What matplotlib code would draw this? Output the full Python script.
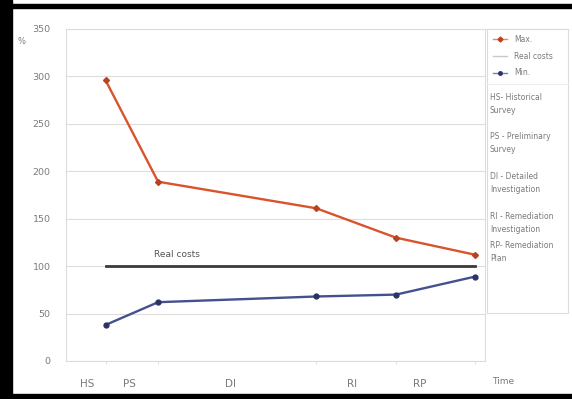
import matplotlib.pyplot as plt
from matplotlib.lines import Line2D
from matplotlib.patches import Rectangle

# data
times = [1.0, 2.33, 6.33, 8.35, 10.35]
max_vals = [296, 189, 161, 130, 112]
min_vals = [38, 62, 68, 70, 89]
real_costs = [100, 100, 100, 100, 100]
phase_labels = ["HS", "PS", "DI", "RI", "RP"]
phase_pos = [0.53, 1.6, 4.15, 7.23, 8.96]
yticks = [0, 50, 100, 150, 200, 250, 300, 350]
notes = ["HS- Historical\nSurvey", "PS - Preliminary\nSurvey", "DI - Detailed\nInvestigation",
         "RI - Remediation\nInvestigation", "RP- Remediation\nPlan"]

W, H = 572, 399
fig = plt.figure(figsize=(W / 100, H / 100), dpi=100)
ax = fig.add_axes([66 / W, 1 - 361 / H, (485 - 66) / W, (361 - 29) / H])

grid_c = "#dcdcdc"
txt_c = "#7a7a7a"

ax.plot(times, real_costs, color="#3a3a3a", lw=2.0, zorder=3)
ax.plot(times, max_vals, color="#d9542c", lw=1.7, marker="D", ms=3,
        mfc="#b8441f", mec="#b8441f", zorder=4)
ax.plot(times, min_vals, color="#45508f", lw=1.7, marker="o", ms=3.5,
        mfc="#2a3266", mec="#2a3266", zorder=4)
ax.text(2.8, 108, "Real costs", fontsize=6.5, color="#555555", ha="center", va="bottom")

ax.set_xlim(0, 10.6)
ax.set_ylim(0, 350)
ax.set_yticks(yticks)
ax.set_yticklabels([str(v) for v in yticks], fontsize=6.8, color=txt_c)
ax.set_xticks(phase_pos)
ax.set_xticklabels(phase_labels, fontsize=7.5, color=txt_c)
ax.set_xticks(times, minor=True)
ax.tick_params(axis="x", which="major", length=0, pad=13)
ax.tick_params(axis="x", which="minor", length=2, color=grid_c)
ax.tick_params(axis="y", length=0, pad=11)
ax.grid(axis="y", color=grid_c, lw=0.8)
ax.set_axisbelow(True)
for s in ["left", "bottom", "right"]:
    ax.spines[s].set_color(grid_c)
ax.spines["top"].set_visible(False)

# y label and x label
fig.text(21 / W, 1 - 42 / H, "%", fontsize=6, color=txt_c, ha="center", va="center")
fig.text(492 / W, 1 - 381 / H, "Time", fontsize=6.5, color=txt_c, ha="left", va="center")

# legend panel
fig.add_artist(Rectangle((487 / W, 1 - 313 / H), (568 - 487) / W, (313 - 29) / H,
                         transform=fig.transFigure, fill=False, ec=grid_c, lw=0.8))
fig.add_artist(Line2D([66 / W, 568 / W], [1 - 29 / H, 1 - 29 / H],
                      transform=fig.transFigure, color=grid_c, lw=0.8))
fig.add_artist(Line2D([487 / W, 568 / W], [1 - 84 / H, 1 - 84 / H],
                      transform=fig.transFigure, color="#eeeeee", lw=0.8))
handles = [
    Line2D([], [], color="#e08a60", lw=1, marker="D", ms=2.5, mfc="#c0401c", mec="#c0401c"),
    Line2D([], [], color="#c8ccc0", lw=1),
    Line2D([], [], color="#7a80a8", lw=1, marker="o", ms=2.5, mfc="#2a3266", mec="#2a3266"),
]
fig.legend(handles, ["Max.", "Real costs", "Min."], loc="upper left",
           bbox_to_anchor=(493 / W, 1 - 35 / H), frameon=False, fontsize=5.5,
           handlelength=1.8, handletextpad=1.0, labelspacing=1.0, labelcolor=txt_c,
           borderaxespad=0, borderpad=0)
note_y = [104, 143, 183, 223, 252]
for y, t in zip(note_y, notes):
    fig.text(490 / W, 1 - y / H, t, fontsize=5.5, color=txt_c, ha="left", va="center",
             linespacing=1.5)

# black frame of the scan
fig.add_artist(Rectangle((0, 0), 12 / W, 1, transform=fig.transFigure, color="black"))
fig.add_artist(Rectangle((0, 1 - 8 / H), 1, 4 / H, transform=fig.transFigure, color="black"))
fig.add_artist(Rectangle((0, 0), 1, 5 / H, transform=fig.transFigure, color="black"))

fig.savefig("out.png", dpi=100)
